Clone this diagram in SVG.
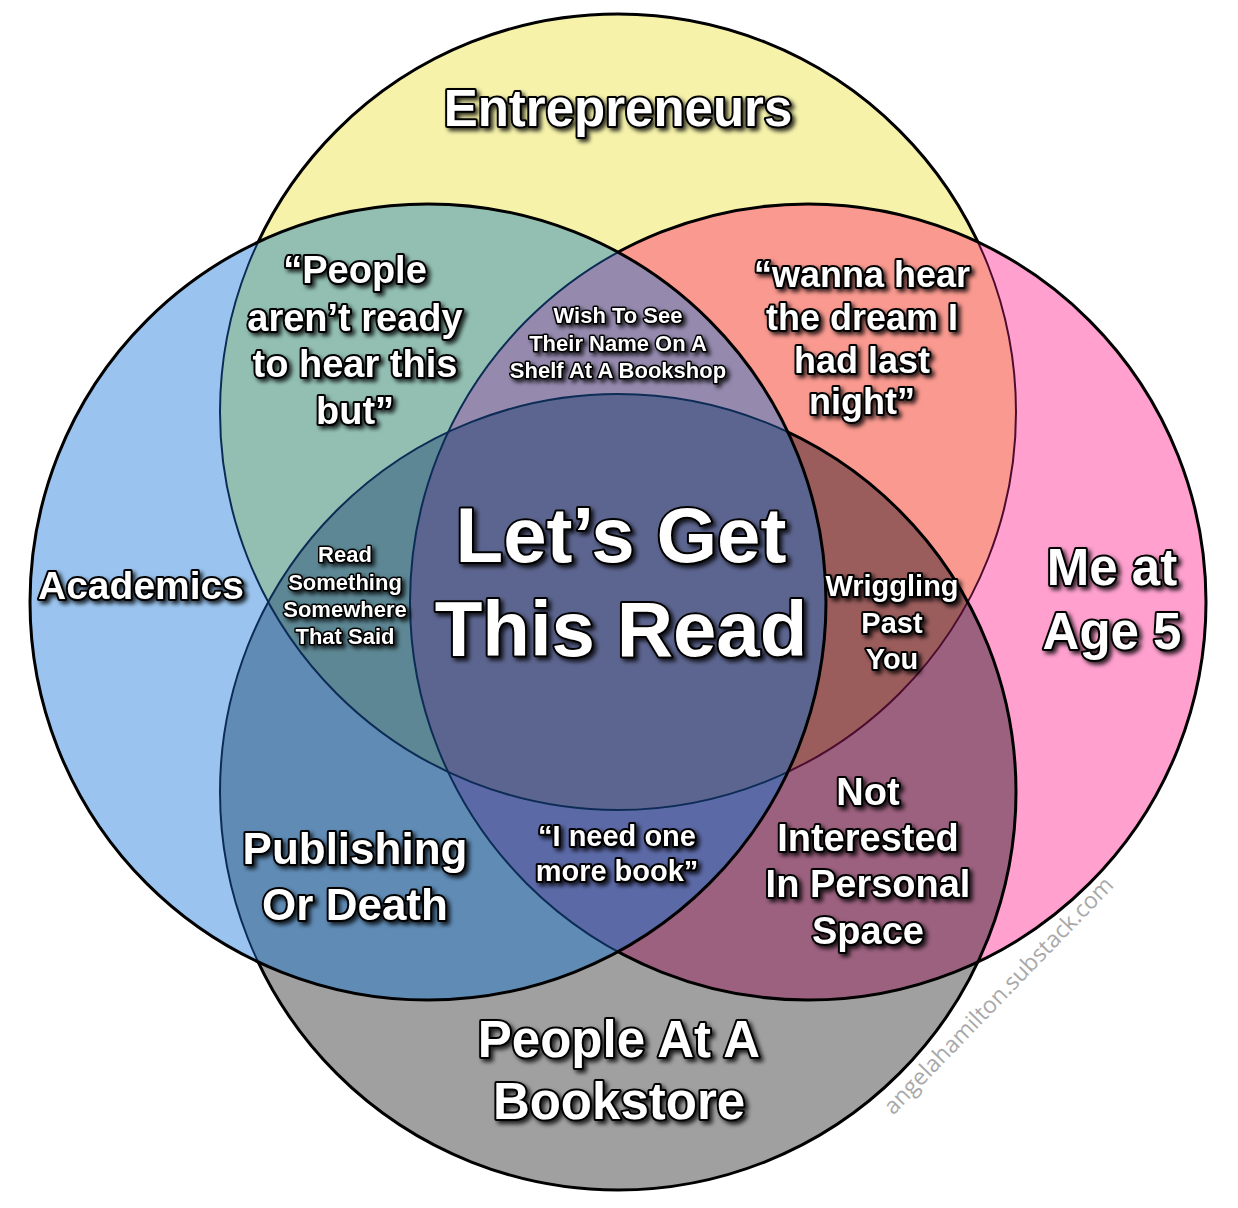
<svg xmlns="http://www.w3.org/2000/svg" width="1238" height="1208" viewBox="0 0 1238 1208">
<style>
.t{font-family:"Liberation Sans",Arial,sans-serif;font-weight:bold;fill:#fff;stroke:#000;stroke-width:4;stroke-linejoin:round;paint-order:stroke;text-anchor:middle;filter:url(#sh)}
.s{stroke-width:3}
.wm{font-family:"Open Sans","Liberation Sans",sans-serif;fill:#a9a9a9;font-size:23px;text-anchor:middle}
.blk{fill:none;stroke:#000;stroke-width:3}
.nav{fill:none;stroke:#0d2c55;stroke-width:2}
.mar{fill:none;stroke:#4b0c2f;stroke-width:2}
</style>
<defs>
<filter id="sh" x="-20%" y="-30%" width="140%" height="170%">
<feGaussianBlur in="SourceAlpha" stdDeviation="2"/>
<feOffset dx="3" dy="3" result="o"/>
<feFlood flood-color="#000" flood-opacity="0.8"/>
<feComposite in2="o" operator="in"/>
<feMerge><feMergeNode/><feMergeNode in="SourceGraphic"/></feMerge>
</filter>
<circle id="Y" cx="618" cy="412" r="398"/>
<circle id="B" cx="428" cy="602" r="398"/>
<circle id="P" cx="808" cy="602" r="398"/>
<circle id="G" cx="618" cy="792" r="398"/>
<clipPath id="cY"><use href="#Y"/></clipPath>
<clipPath id="cB"><use href="#B"/></clipPath>
<clipPath id="cP"><use href="#P"/></clipPath>
<clipPath id="cG"><use href="#G"/></clipPath>
<clipPath id="xB"><path clip-rule="evenodd" d="M-10 -10H1250V1220H-10Z M30 602a398 398 0 1 0 796 0a398 398 0 1 0-796 0Z"/></clipPath>
<clipPath id="xP"><path clip-rule="evenodd" d="M-10 -10H1250V1220H-10Z M410 602a398 398 0 1 0 796 0a398 398 0 1 0-796 0Z"/></clipPath>
</defs>
<rect width="1238" height="1208" fill="#fff"/>
<g id="regions">
<use href="#Y" fill="#f6f2aa"/>
<use href="#B" fill="#9ac4ef"/>
<use href="#P" fill="#ffa0cf"/>
<use href="#G" fill="#a0a0a0"/>
<g clip-path="url(#cB)"><use href="#Y" fill="#93bfb3"/></g>
<g clip-path="url(#cP)"><use href="#Y" fill="#f9998f"/></g>
<g clip-path="url(#cG)"><use href="#B" fill="#5f8bb5"/></g>
<g clip-path="url(#cG)"><use href="#P" fill="#9c617f"/></g>
<g clip-path="url(#cB)"><g clip-path="url(#cP)"><use href="#Y" fill="#958aae"/></g></g>
<g clip-path="url(#cB)"><g clip-path="url(#cG)"><use href="#Y" fill="#5d8794"/></g></g>
<g clip-path="url(#cP)"><g clip-path="url(#cG)"><use href="#Y" fill="#9a5d5c"/></g></g>
<g clip-path="url(#cP)"><g clip-path="url(#cG)"><use href="#B" fill="#5b69a6"/></g></g>
<g clip-path="url(#cB)"><g clip-path="url(#cP)"><g clip-path="url(#cG)"><use href="#Y" fill="#5c658f"/></g></g></g>
</g>
<g id="outlines">
<g clip-path="url(#xB)"><g clip-path="url(#xP)"><use href="#Y" class="blk"/></g></g>
<g clip-path="url(#xB)"><g clip-path="url(#cP)"><use href="#Y" class="mar"/></g></g>
<g clip-path="url(#xB)"><use href="#P" class="blk"/><use href="#G" class="blk"/></g>
<g clip-path="url(#cB)"><use href="#Y" class="nav"/><use href="#P" class="nav"/><use href="#G" class="nav"/></g>
<use href="#B" class="blk"/>
</g>
<g id="connectors"/>
<g id="entrepreneurs"><text class="t" x="618" y="126" font-size="51">Entrepreneurs</text></g>
<g id="academics"><text class="t" x="141" y="599" font-size="39">Academics</text></g>
<g id="me-at-age-5"><text class="t" x="1112" y="585" font-size="51">Me at</text><text class="t" x="1112" y="649" font-size="51">Age 5</text></g>
<g id="bookstore"><text class="t" x="619" y="1057" font-size="51">People At A</text><text class="t" x="619" y="1119" font-size="51">Bookstore</text></g>
<g id="center"><text class="t" x="621" y="562" font-size="78">Let’s Get</text><text class="t" x="621" y="656" font-size="78">This Read</text></g>
<g id="entrepreneurs-academics"><text class="t" font-size="38" x="355" y="283">“People</text><text class="t" font-size="38" x="355" y="331">aren’t ready</text><text class="t" font-size="38" x="355" y="377">to hear this</text><text class="t" font-size="38" x="355" y="424">but”</text></g>
<g id="entrepreneurs-me"><text class="t" font-size="36" x="862" y="287">“wanna hear</text><text class="t" font-size="36" x="862" y="330">the dream I</text><text class="t" font-size="36" x="862" y="373">had last</text><text class="t" font-size="36" x="862" y="414">night”</text></g>
<g id="entrepreneurs-academics-me"><text class="t s" font-size="22" x="618" y="323">Wish To See</text><text class="t s" font-size="22" x="618" y="351">Their Name On A</text><text class="t s" font-size="22" x="618" y="378">Shelf At A Bookshop</text></g>
<g id="entrepreneurs-academics-bookstore"><text class="t s" font-size="22" x="345" y="562">Read</text><text class="t s" font-size="22" x="345" y="590">Something</text><text class="t s" font-size="22" x="345" y="617">Somewhere</text><text class="t s" font-size="22" x="345" y="644">That Said</text></g>
<g id="entrepreneurs-me-bookstore"><text class="t" font-size="29" x="892" y="596">Wriggling</text><text class="t" font-size="29" x="892" y="633">Past</text><text class="t" font-size="29" x="892" y="669">You</text></g>
<g id="academics-bookstore"><text class="t" font-size="44" x="355" y="864">Publishing</text><text class="t" font-size="44" x="355" y="920">Or Death</text></g>
<g id="academics-me-bookstore"><text class="t" font-size="29" x="617" y="846">“I need one</text><text class="t" font-size="29" x="617" y="881">more book”</text></g>
<g id="me-bookstore"><text class="t" font-size="38" x="868" y="805">Not</text><text class="t" font-size="38" x="868" y="851">Interested</text><text class="t" font-size="38" x="868" y="897">In Personal</text><text class="t" font-size="38" x="868" y="944">Space</text></g>
<g id="watermark"><text class="wm" transform="translate(1004 1001) rotate(-46)">angelahamilton.substack.com</text></g>
</svg>
